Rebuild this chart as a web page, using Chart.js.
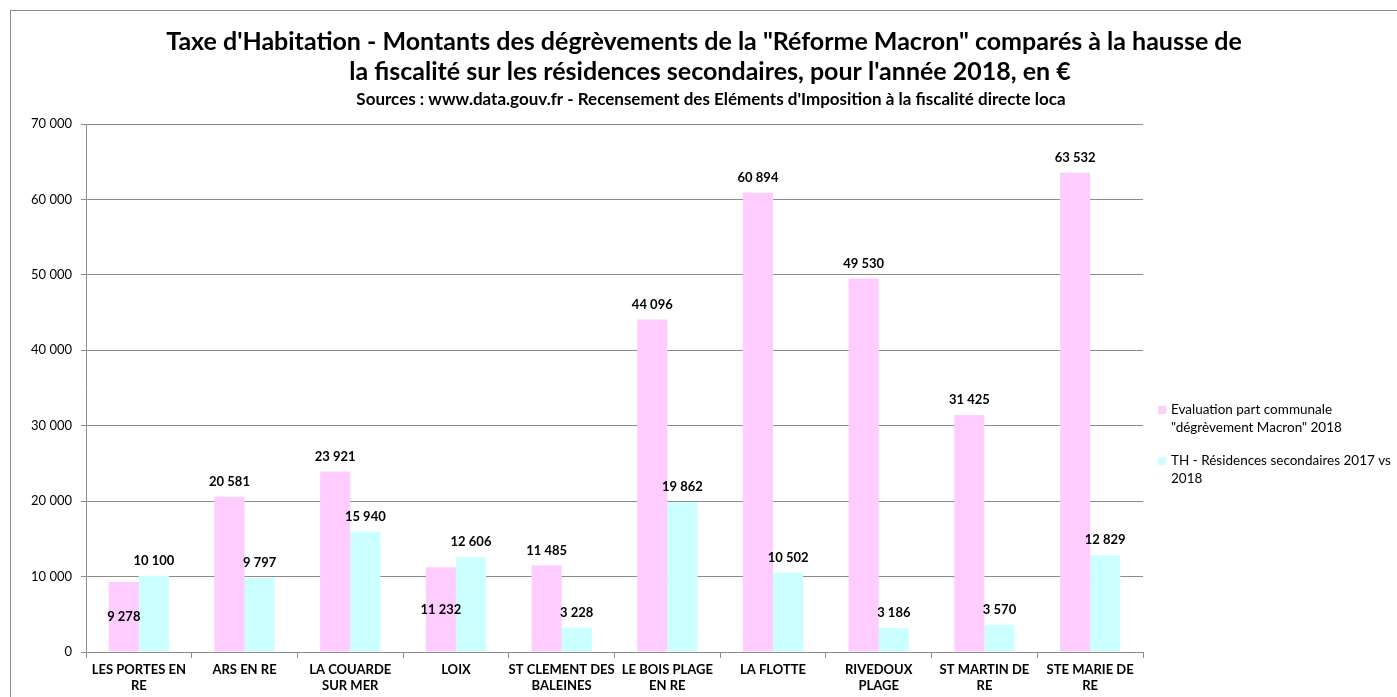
<!DOCTYPE html>
<html><head><meta charset="utf-8">
<script src="https://cdn.jsdelivr.net/npm/chart.js@4/dist/chart.umd.min.js"></script>
<style>
html,body{margin:0;padding:0;background:#fff;overflow:hidden}
#wrap{position:absolute;left:0;top:0;width:1397px;height:697px}
#frame{position:absolute;left:10px;top:10px;width:1400px;height:700px;border-left:1px solid #8c8c8c;border-top:1px solid #8c8c8c}
canvas{position:absolute;left:0;top:0}
</style></head><body>
<div id="wrap"><div id="frame"></div><canvas id="c" width="1397" height="697"></canvas></div>
<script>
const categories = [["LES PORTES EN","RE"],["ARS EN RE"],["LA COUARDE","SUR MER"],["LOIX"],["ST CLEMENT DES","BALEINES"],["LE BOIS PLAGE","EN RE"],["LA FLOTTE"],["RIVEDOUX","PLAGE"],["ST MARTIN DE","RE"],["STE MARIE DE","RE"]];
const degrevement = [9278,20581,23921,11232,11485,44096,60894,49530,31425,63532];
const residences = [10100,9797,15940,12606,3228,19862,10502,3186,3570,12829];
const degrevementLabelInside = [true,false,false,true,false,false,false,false,false,false];
const residencesLabelInside = [false,false,false,false,false,false,false,false,false,false];
const seriesNames = [["Evaluation part communale","\"dégrèvement Macron\" 2018"],["TH - Résidences secondaires 2017 vs","2018"]];
const titleLines = ["Taxe d'Habitation - Montants des dégrèvements de la \"Réforme Macron\" comparés à la hausse de","la fiscalité sur les résidences secondaires, pour l'année 2018, en €"];
const subtitle = "Sources : www.data.gouv.fr - Recensement des Eléments d'Imposition à la fiscalité directe loca";
const yMax = 70000, yStep = 10000;

const FONT = "Lato, 'Open Sans', sans-serif";
const fmt = v => String(v).replace(/\B(?=(\d{3})+(?!\d))/g, ' ');

const decor = {
  id:'decor',
  afterDraw(chart){
    const ctx = chart.ctx;
    ctx.save();
    ctx.fillStyle = '#000';
    ctx.textAlign = 'center';
    ctx.textBaseline = 'middle';
    ctx.font = "bold 25px " + FONT;
    ctx.fillText(titleLines[0], 704, 42, 1080);
    ctx.fillText(titleLines[1], 710, 72, 740);
    ctx.font = "bold 17px " + FONT;
    ctx.fillText(subtitle, 711, 100, 720);
    // data labels
    ctx.font = "bold 13px " + FONT;
    const inside = [degrevementLabelInside, residencesLabelInside];
    chart.data.datasets.forEach((ds, di) => {
      const meta = chart.getDatasetMeta(di);
      meta.data.forEach((bar, i) => {
        const v = ds.data[i];
        let y;
        if (inside[di][i]) y = (bar.y + bar.base) / 2;
        else y = bar.y - 15;
        ctx.fillText(fmt(v), bar.x, y);
      });
    });
    // legend
    ctx.textAlign = 'left';
    ctx.font = "13.5px " + FONT;
    const starts = [410, 461];
    chart.data.datasets.forEach((ds, di) => {
      const y0 = starts[di];
      ctx.fillStyle = ds.backgroundColor;
      ctx.fillRect(1158, y0 - 4, 8, 8);
      ctx.fillStyle = '#000';
      seriesNames[di].forEach((ln, li) => ctx.fillText(ln, 1171, y0 + li * 18, 222));
    });
    ctx.restore();
  }
};

new Chart(document.getElementById('c'), {
  type:'bar',
  data:{
    labels: categories,
    datasets:[
      {label: seriesNames[0].join(' '), data: degrevement, backgroundColor:'#ffccff', categoryPercentage:0.57, barPercentage:1},
      {label: seriesNames[1].join(' '), data: residences, backgroundColor:'#ccffff', categoryPercentage:0.57, barPercentage:1}
    ]
  },
  options:{
    responsive:false, animation:false, devicePixelRatio:1,
    layout:{padding:{left:0, top:124, right:254, bottom:0}},
    plugins:{legend:{display:false}, title:{display:false}, tooltip:{enabled:false}},
    scales:{
      x:{
        afterFit(s){ s.height = 45; },
        grid:{drawOnChartArea:false, drawTicks:true, tickLength:6, color:'#8c8c8c', offset:true},
        border:{color:'#8c8c8c'},
        ticks:{color:'#000', font:{family:FONT, size:13, weight:'bold'}, padding:4, maxRotation:0, autoSkip:false}
      },
      y:{
        min:0, max:yMax,
        afterFit(s){ s.width = 86; },
        grid:{color:'#8c8c8c', tickLength:5},
        border:{color:'#8c8c8c'},
        ticks:{stepSize:yStep, color:'#000', font:{family:FONT, size:13}, padding:9, callback:v=>fmt(v)}
      }
    }
  },
  plugins:[decor]
});
</script>
</body></html>
